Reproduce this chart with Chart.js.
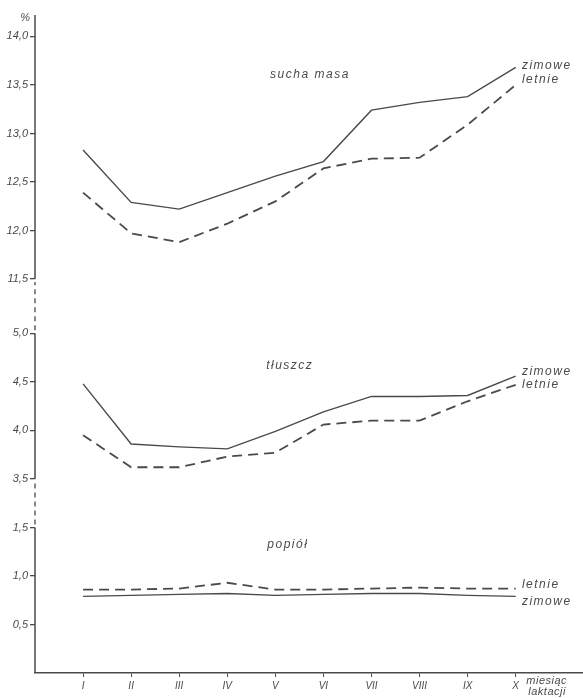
<!DOCTYPE html>
<html>
<head>
<meta charset="utf-8">
<script src="https://cdn.jsdelivr.net/npm/chart.js@4/dist/chart.umd.min.js"></script>
<style>
  html, body { margin: 0; padding: 0; background: #fff; }
  #wrap { width: 583px; height: 698px; }
</style>
</head>
<body>
<div id="wrap"><canvas id="chart"></canvas></div>
<script>
const months = ['I', 'II', 'III', 'IV', 'V', 'VI', 'VII', 'VIII', 'IX', 'X'];

// sucha masa (dry matter), %
const dryWinter = [12.83, 12.29, 12.22, 12.39, 12.56, 12.71, 13.24, 13.32, 13.38, 13.68];
const drySummer = [12.39, 11.97, 11.88, 12.07, 12.30, 12.64, 12.74, 12.75, 13.09, 13.50];
// tłuszcz (fat), %
const fatWinter = [4.48, 3.86, 3.83, 3.81, 3.99, 4.19, 4.35, 4.35, 4.36, 4.56];
const fatSummer = [3.95, 3.62, 3.62, 3.73, 3.77, 4.06, 4.10, 4.10, 4.30, 4.47];
// popiół (ash), %
const ashWinter = [0.79, 0.80, 0.81, 0.82, 0.80, 0.81, 0.82, 0.82, 0.80, 0.79];
const ashSummer = [0.86, 0.86, 0.87, 0.93, 0.86, 0.86, 0.87, 0.88, 0.87, 0.87];

const dryTicks = [11.5, 12.0, 12.5, 13.0, 13.5, 14.0];
const fatTicks = [3.5, 4.0, 4.5, 5.0];
const ashTicks = [0.5, 1.0, 1.5];

const ink = '#4a4a4a';
const fontName = '"Liberation Sans", "DejaVu Sans", sans-serif';

function toPoints(arr) {
  return arr.map((v, i) => ({ x: i + 1, y: v }));
}

function line(label, values, axis, dashed) {
  return {
    label: label,
    data: toPoints(values),
    yAxisID: axis,
    borderColor: ink,
    borderWidth: dashed ? 1.8 : 1.4,
    borderDash: dashed ? [10, 6] : [],
    pointRadius: 0,
    tension: 0,
    fill: false
  };
}

function yScale(min, max, ticks, weight) {
  return {
    type: 'linear',
    position: 'left',
    stack: 'pct',
    stackWeight: weight,
    min: min,
    max: max,
    border: { display: false },
    grid: { drawOnChartArea: false, drawTicks: true, tickLength: 5, color: ink, lineWidth: 1.3 },
    ticks: {
      color: ink,
      padding: 2,
      font: { family: fontName, size: 11, style: 'italic' },
      callback: v => v.toFixed(1).replace('.', ',')
    },
    afterBuildTicks: axis => { axis.ticks = ticks.map(v => ({ value: v })); },
    afterFit: axis => { axis.width = 35; }
  };
}

// labels drawn in data coordinates: [text, x value, y value, axis, align]
const notes = [
  ['sucha masa', 5.72, 13.61, 'yDry', 'center'],
  ['zimowe', 10.13, 13.70, 'yDry', 'left'],
  ['letnie', 10.13, 13.55, 'yDry', 'left'],
  ['tłuszcz', 5.3, 4.67, 'yFat', 'center'],
  ['zimowe', 10.13, 4.61, 'yFat', 'left'],
  ['letnie', 10.13, 4.47, 'yFat', 'left'],
  ['popiół', 5.26, 1.32, 'yAsh', 'center'],
  ['letnie', 10.13, 0.91, 'yAsh', 'left'],
  ['zimowe', 10.13, 0.74, 'yAsh', 'left']
];

const brokenAxis = {
  id: 'brokenAxis',
  afterDraw(chart) {
    const c = chart.ctx;
    const s = chart.scales;
    const x0 = chart.chartArea.left;
    c.save();
    c.strokeStyle = ink;
    c.lineWidth = 1.5;
    // solid parts of the vertical axis
    const solid = [
      [s.yAsh.getPixelForValue(0), s.yAsh.getPixelForValue(1.5)],
      [s.yFat.getPixelForValue(3.5), s.yFat.getPixelForValue(5.0)],
      [s.yDry.getPixelForValue(11.5), chart.chartArea.top - 2]
    ];
    solid.forEach(([a, b]) => {
      c.beginPath(); c.moveTo(x0, a); c.lineTo(x0, b); c.stroke();
    });
    // dashed breaks
    c.setLineDash([5, 4]);
    c.lineWidth = 1.3;
    [[solid[0][1], solid[1][0]], [solid[1][1], solid[2][0]]].forEach(([a, b]) => {
      c.beginPath(); c.moveTo(x0, a - 3); c.lineTo(x0, b + 3); c.stroke();
    });
    c.setLineDash([]);

    c.fillStyle = ink;
    c.font = 'italic 12px ' + fontName;
    c.letterSpacing = '1.5px';
    c.textBaseline = 'middle';
    notes.forEach(([text, xv, yv, axis, align]) => {
      c.textAlign = align;
      c.fillText(text, s.x.getPixelForValue(xv), s[axis].getPixelForValue(yv));
    });
    c.letterSpacing = '0px';

    c.font = 'italic 11px ' + fontName;
    c.textAlign = 'right';
    c.fillText('%', x0 - 5, chart.chartArea.top + 1);

    c.textAlign = 'left';
    c.letterSpacing = '0.5px';
    const bx = s.x.getPixelForValue(10.22);
    const by = chart.chartArea.bottom;
    c.fillText('miesiąc', bx, by + 8);
    c.fillText('laktacji', bx + 2, by + 19);
    c.restore();
  }
};

new Chart(document.getElementById('chart'), {
  type: 'line',
  data: {
    datasets: [
      line('sucha masa – zimowe', dryWinter, 'yDry', false),
      line('sucha masa – letnie', drySummer, 'yDry', true),
      line('tłuszcz – zimowe', fatWinter, 'yFat', false),
      line('tłuszcz – letnie', fatSummer, 'yFat', true),
      line('popiół – zimowe', ashWinter, 'yAsh', false),
      line('popiół – letnie', ashSummer, 'yAsh', true)
    ]
  },
  options: {
    responsive: true,
    maintainAspectRatio: false,
    animation: false,
    layout: { padding: { top: 17, right: 0, left: 0, bottom: 0 } },
    plugins: {
      legend: { display: false },
      tooltip: { enabled: false }
    },
    scales: {
      x: {
        type: 'linear',
        min: 0,
        max: 11.4,
        border: { color: ink, width: 1.5 },
        grid: { drawOnChartArea: false, drawTicks: true, tickLength: 4, color: ink },
        ticks: {
          color: ink,
          padding: 3,
          font: { family: fontName, size: 10, style: 'italic' },
          callback: v => months[v - 1] || ''
        },
        afterBuildTicks: axis => { axis.ticks = months.map((m, i) => ({ value: i + 1 })); },
        afterFit: axis => { axis.height = 25; }
      },
      yAsh: yScale(0, 2.0, ashTicks, 2.0),
      yFat: yScale(3.5, 5.56, fatTicks, 2.06),
      yDry: yScale(11.5, 14.2, dryTicks, 2.7)
    }
  },
  plugins: [brokenAxis]
});
</script>
</body>
</html>
